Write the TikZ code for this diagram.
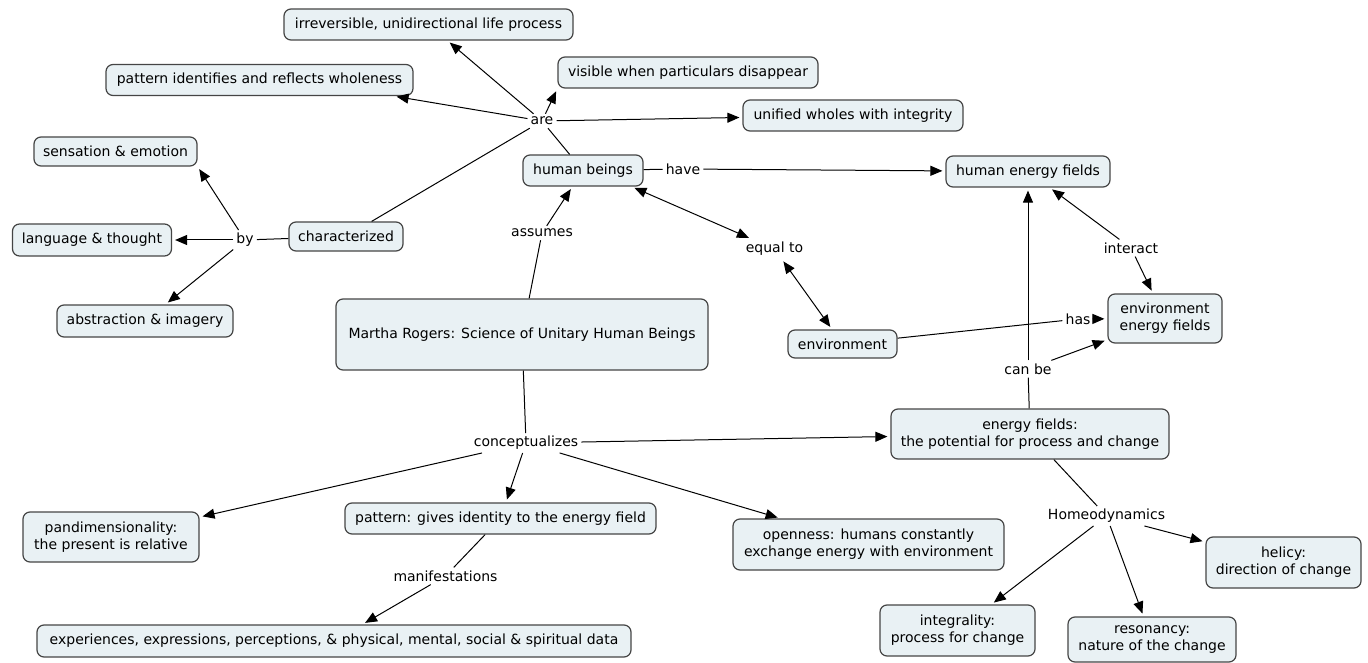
\documentclass[tikz,border=0pt]{standalone}
\usepackage{fontspec}
\setmainfont{DejaVu Sans}
\usetikzlibrary{arrows.meta}
\newlength{\du}
\setlength{\du}{1pt}
\definecolor{conceptfill}{rgb}{0.914000, 0.945000, 0.957000}
\definecolor{conceptline}{rgb}{0.270000, 0.270000, 0.270000}
\tikzset{
  concept/.style={draw=conceptline, fill=conceptfill, line width=1.2\du,
    rounded corners=7\du, align=center, inner xsep=4\du, inner ysep=3\du,
    minimum height=31\du, font=\fontsize{14}{17}\selectfont},
  phrase/.style={inner sep=3\du, font=\fontsize{14}{17}\selectfont},
  link/.style={draw=black, line width=1\du},
  linkto/.style={link, -{Triangle[length=12pt,width=10pt]}, shorten >=3\du},
  linkboth/.style={link, {Triangle[length=12pt,width=10pt]}-{Triangle[length=12pt,width=10pt]}, shorten >=3\du, shorten <=3\du}
}
\begin{document}
\begin{tikzpicture}
\pgftransformxscale{1.000000}
\pgftransformyscale{-1.000000}
\useasboundingbox (0\du,0\du) rectangle (1368\du,663\du);
% concepts
\node[concept, minimum width=289\du] (irrev) at (428.5\du,24.5\du){irreversible, unidirectional life process};
\node[concept, minimum width=307\du] (patwhole) at (259.5\du,80\du){pattern identifies and reflects wholeness};
\node[concept, minimum width=260\du] (visible) at (688\du,72.5\du){visible when particulars disappear};
\node[concept, minimum width=220\du] (unified) at (853\du,115.5\du){unified wholes with integrity};
\node[concept, minimum width=163\du, minimum height=29\du] (sensation) at (115.5\du,151.5\du){sensation \& emotion};
\node[concept, minimum width=120\du] (humans) at (583\du,170.5\du){human beings};
\node[concept, minimum width=164\du] (hfields) at (1028\du,171.5\du){human energy fields};
\node[concept, minimum width=114\du, minimum height=29\du] (character) at (346\du,236.5\du){characterized};
\node[concept, minimum width=159\du, minimum height=32\du] (language) at (92\du,240\du){language \& thought};
\node[concept, minimum width=176\du, minimum height=32\du] (abstract) at (145\du,321\du){abstraction \& imagery};
\node[concept, minimum width=372\du, minimum height=71\du] (rogers) at (522\du,334.5\du){Martha Rogers: Science of Unitary Human Beings};
\node[concept, minimum width=109\du, minimum height=28\du] (environ) at (842.5\du,344\du){environment};
\node[concept, minimum width=114\du, minimum height=49\du] (efields) at (1165\du,318.5\du){environment\\energy fields};
\node[concept, minimum width=278\du, minimum height=50\du] (fields) at (1030\du,434\du){energy fields:\\the potential for process and change};
\node[concept, minimum width=176\du, minimum height=50\du] (pandim) at (111\du,537\du){pandimensionality:\\the present is relative};
\node[concept, minimum width=311\du] (pattern) at (500.5\du,518.5\du){pattern: gives identity to the energy field};
\node[concept, minimum width=271\du, minimum height=51\du] (openness) at (868.5\du,544.5\du){openness: humans constantly\\exchange energy with environment};
\node[concept, minimum width=155\du, minimum height=51\du] (helicy) at (1283.5\du,562.5\du){helicy:\\direction of change};
\node[concept, minimum width=155\du, minimum height=51\du] (integral) at (957.5\du,630.5\du){integrality:\\process for change};
\node[concept, minimum width=168\du, minimum height=45\du] (resonance) at (1152\du,639.5\du){resonancy:\\nature of the change};
\node[concept, minimum width=594\du, minimum height=32\du] (experience) at (334\du,641\du){experiences, expressions, perceptions, \& physical, mental, social \& spiritual data};
% linking phrases
\node[phrase] (are) at (542\du,121\du){are};
\node[phrase] (have) at (683\du,169\du){have};
\node[phrase] (by) at (245\du,240\du){by};
\node[phrase] (assumes) at (542\du,233\du){assumes};
\node[phrase] (equal) at (774.5\du,249\du){equal to};
\node[phrase] (interact) at (1131\du,248\du){interact};
\node[phrase] (has) at (1078\du,319\du){has};
\node[phrase] (canbe) at (1028\du,369\du){can be};
\node[phrase] (concept) at (526\du,443\du){conceptualizes};
\node[phrase] (homeo) at (1106.5\du,516\du){Homeodynamics};
\node[phrase] (manifest) at (445.5\du,576\du){manifestations};
% connectors
\draw[link] (humans) -- (are);
\draw[link] (character) -- (are);
\draw[linkto] (are) -- (irrev);
\draw[linkto] (are) -- ([xshift=-20\du]patwhole.south east);
\draw[linkto] (are) -- (visible.south west);
\draw[linkto] (are) -- (unified);
\draw[link] (character) -- (by);
\draw[linkto] (by) -- (sensation.south east);
\draw[linkto] (by) -- (language);
\draw[linkto] (by) -- (abstract);
\draw[link] (humans) -- (have);
\draw[linkto] (have) -- (hfields);
\draw[link] (rogers) -- (assumes);
\draw[linkto] (assumes) -- (humans);
\draw[linkboth] (equal) -- ([xshift=-12\du]humans.south east);
\draw[linkboth] (equal) -- (environ);
\draw[linkto] (interact) -- (hfields);
\draw[linkto] (interact) -- (efields);
\draw[link] (environ) -- (has);
\draw[linkto] (has) -- (efields);
\draw[link] (fields) -- (canbe);
\draw[linkto] (canbe) -- (hfields);
\draw[linkto] (canbe) -- (efields);
\draw[link] (rogers) -- (concept);
\draw[linkto] (concept) -- (fields);
\draw[linkto] (concept) -- (pandim);
\draw[linkto] (concept) -- (pattern);
\draw[linkto] (concept) -- (openness);
\draw[link] (fields) -- (homeo);
\draw[linkto] (homeo) -- (helicy);
\draw[linkto] (homeo) -- (integral);
\draw[linkto] (homeo) -- (resonance);
\draw[link] (pattern) -- (manifest);
\draw[linkto] (manifest) -- (experience);
\end{tikzpicture}
\end{document}
